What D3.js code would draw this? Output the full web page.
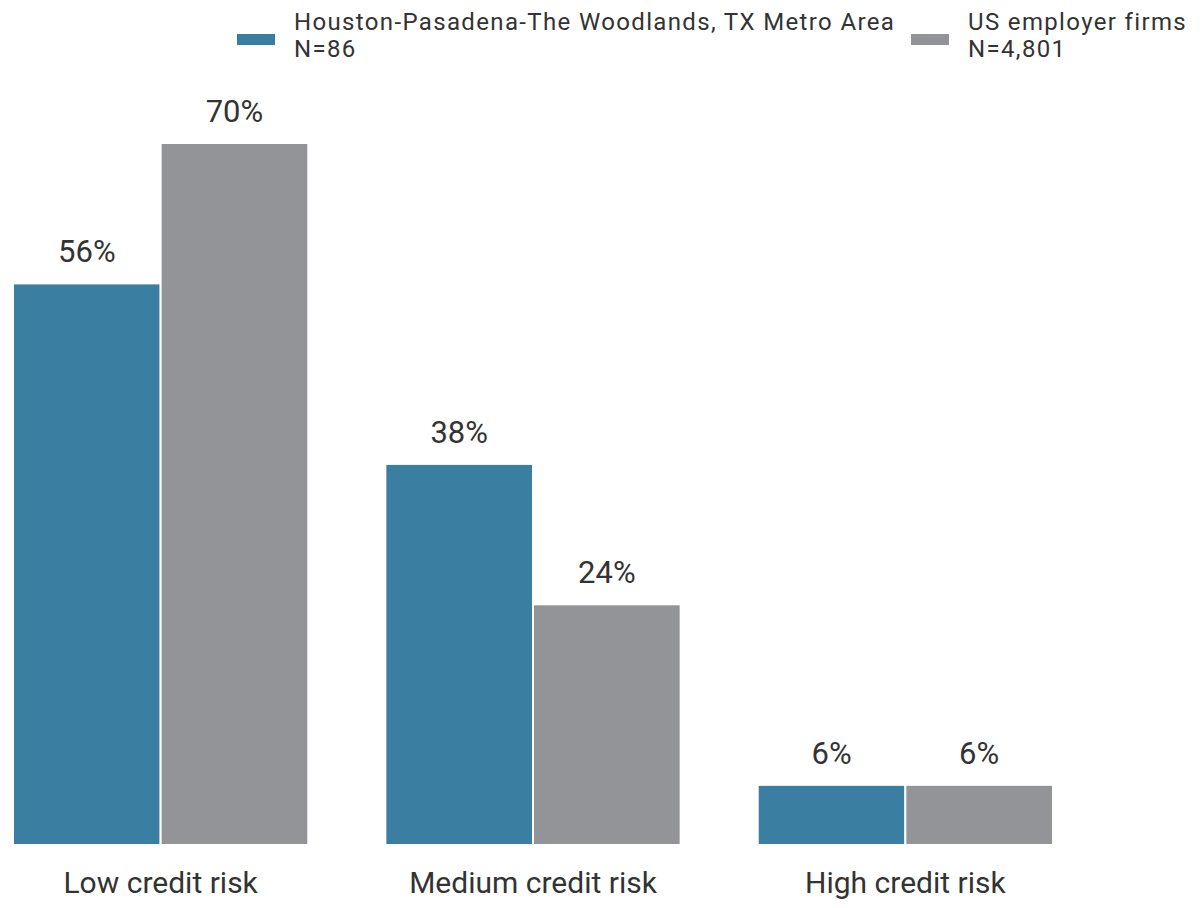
<!DOCTYPE html>
<html><head><meta charset="utf-8">
<script src="https://cdn.jsdelivr.net/npm/d3@7"></script>
<style>body{margin:0;background:#fff;} text{font-family:Roboto, "Noto Sans", sans-serif;}</style>
</head><body>
<svg id="chart" width="1204" height="908"></svg>
<script>
const categories = ["Low credit risk", "Medium credit risk", "High credit risk"];
const seriesNames = ["Houston-Pasadena-The Woodlands, TX Metro Area", "US employer firms"];
const seriesN = ["N=86", "N=4,801"];
const houston = [56, 38, 6];
const us = [70, 24, 6];
const colors = ["#3a7ea1", "#939497"];

const svg = d3.select("#chart");
const baseY = 845;
const x0 = d3.scaleBand().domain(categories).range([13, 1053]).paddingInner(0.207).paddingOuter(0);
const x1 = d3.scaleBand().domain([0, 1]).range([0, x0.bandwidth()]).padding(0);
const y = d3.scaleLinear().domain([0, 70]).range([baseY, 143]);

const data = categories.map((c, i) => ({cat: c, vals: [houston[i], us[i]]}));

const g = svg.append("g").selectAll("g").data(data).join("g")
  .attr("transform", d => `translate(${x0(d.cat)},0)`);

g.selectAll("rect").data(d => d.vals).join("rect")
  .attr("x", (d, i) => x1(i))
  .attr("y", d => y(d))
  .attr("width", x1.bandwidth())
  .attr("height", d => baseY - y(d))
  .attr("fill", (d, i) => colors[i])
  .attr("stroke", "#fff").attr("stroke-width", 2);

g.selectAll("text.val").data(d => d.vals).join("text")
  .attr("class", "val")
  .attr("x", (d, i) => x1(i) + x1.bandwidth() / 2)
  .attr("y", d => y(d) - 21)
  .attr("text-anchor", "middle")
  .attr("font-size", 31).attr("fill", "#333")
  .text(d => d + "%");

const xAxis = d3.axisBottom(x0).tickSize(0).tickPadding(0);
const ax = svg.append("g").attr("transform", `translate(0,${baseY})`).call(xAxis);
ax.select(".domain").remove();
ax.selectAll("text").attr("font-size", 30).attr("fill", "#333")
  .attr("dy", null).attr("y", 48).attr("font-family", "Roboto, sans-serif");

// legend
const legendX = [237, 911];
const lg = svg.append("g").selectAll("g").data(seriesNames).join("g")
  .attr("transform", (d, i) => `translate(${legendX[i]},0)`);
lg.append("rect").attr("x", 0).attr("y", 34).attr("width", 38).attr("height", 11)
  .attr("fill", (d, i) => colors[i]);
lg.append("text").attr("x", 57).attr("y", 30).attr("font-size", 24).attr("letter-spacing", 1.35)
  .attr("fill", "#333").text(d => d);
lg.append("text").attr("x", 57).attr("y", 57).attr("font-size", 24).attr("letter-spacing", 1.35)
  .attr("fill", "#333").text((d, i) => seriesN[i]);
</script>
</body></html>
